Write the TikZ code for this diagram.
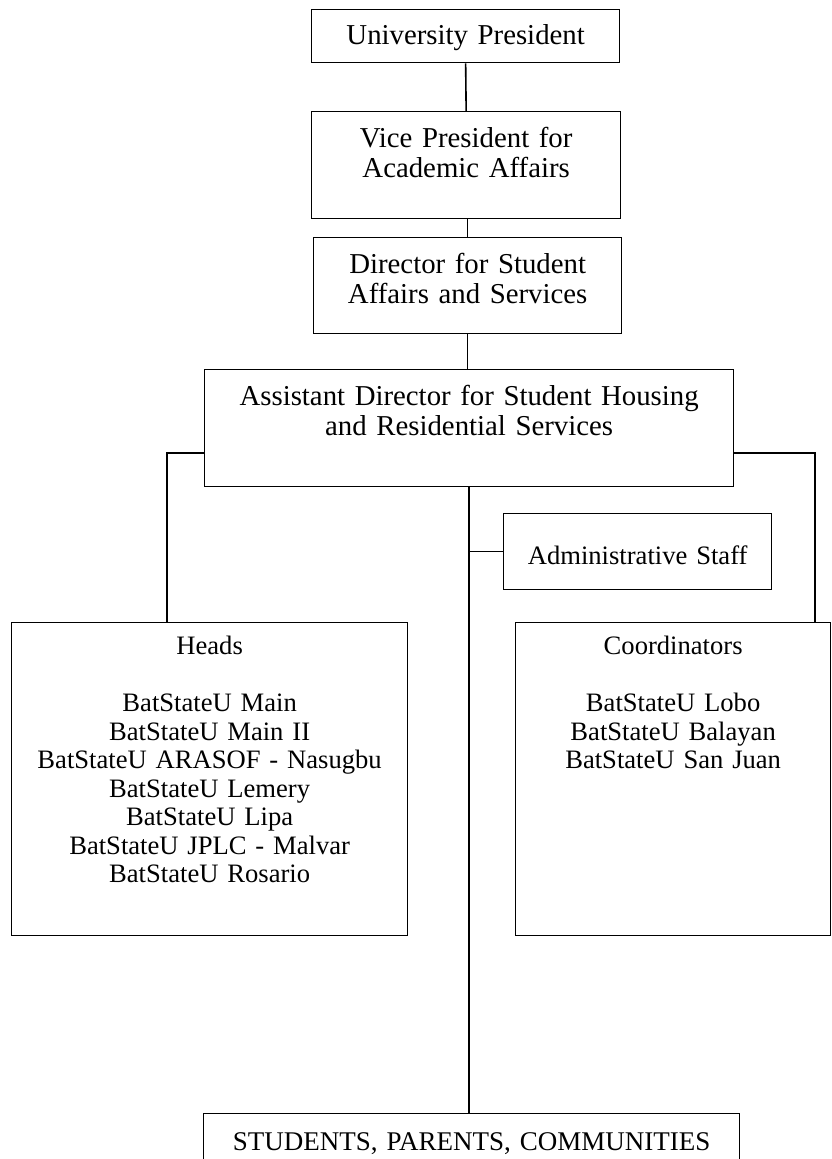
\documentclass[tikz,border=0pt]{standalone}
\usepackage{fontspec}
\setmainfont{Liberation Serif}

\newcommand{\bigsize}{\fontsize{28.8}{30}\selectfont}
\newcommand{\smallsize}{\fontsize{26.6}{28.5}\selectfont}

\tikzset{
  unit/.style={draw, line width=1.3pt, inner sep=0pt, align=center,
    anchor=north west, text width=#1},
  rows/.style 2 args={text height=#1, text depth=#2},
  link/.style={line width=1.6pt},
}

\begin{document}
\begin{tikzpicture}[x=1pt, y=-1pt]
        % Page frame
        \useasboundingbox (0,0) rectangle (831,1159);
        \clip (0,0) rectangle (831,1159);

        % Top of the chart
        \node[unit=308pt, rows={35.3pt}{17.7pt}, font=\bigsize] (pres) at (311,9) {University President};
        \node[unit=309pt, rows={36pt}{71pt}, font=\bigsize] (vp) at (311,111) {Vice President for\\Academic Affairs};
        \node[unit=308pt, rows={36pt}{60pt}, font=\bigsize] (dir) at (313,237) {Director for Student\\Affairs and Services};
        \node[unit=529pt, rows={36pt}{81pt}, font=\bigsize] (asd) at (204,369) {Assistant Director for Student Housing\\and Residential Services};

        % Staff and campuses
        \node[unit=268pt, rows={51pt}{25pt}, font=\smallsize] (staff) at (503,513) {Administrative Staff};
        \node[unit=396pt, rows={32pt}{281pt}, font=\smallsize] (heads) at (11,622) {Heads\\[28.5pt]BatStateU Main\\BatStateU Main II\\BatStateU ARASOF - Nasugbu\\BatStateU Lemery\\BatStateU Lipa\\BatStateU JPLC - Malvar\\BatStateU Rosario};
        \node[unit=315pt, rows={32pt}{281pt}, font=\smallsize] (coord) at (515,622) {Coordinators\\[28.5pt]BatStateU Lobo\\BatStateU Balayan\\BatStateU San Juan};

        % Bottom box
        \node[unit=536pt, rows={37pt}{25pt}, font=\fontsize{27}{29}\selectfont] (spc) at (203,1113) {STUDENTS, PARENTS, COMMUNITIES};

        % Corners of the side links
        \coordinate (lft) at (167,453);
        \coordinate (rgt) at (815,453);

        % Links
        \draw[link] (pres.south) -- (vp.north);
        \draw[link] (dir.north |- vp.south) -- (dir.north);
        \draw[link] (dir.south) -- (dir.south |- asd.north);
        \draw[link] (asd.south) -- (asd.south |- spc.north);
        \draw[link] (asd.south |- staff.west) -- (staff.west);
        \draw[link] (asd.west |- lft) -- (lft) -- (lft |- heads.north);
        \draw[link] (asd.east |- rgt) -- (rgt) -- (rgt |- coord.north);

    \end{tikzpicture}
\end{document}
